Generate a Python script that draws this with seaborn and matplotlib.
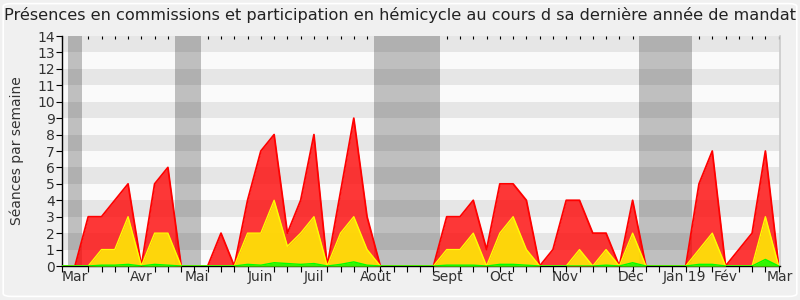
import matplotlib
matplotlib.use("Agg")
import matplotlib.pyplot as plt
import seaborn as sns
import numpy as np
import pandas as pd
from matplotlib.patches import FancyBboxPatch

# ---- data (weekly values) ----
weeks = list(range(55))
commission = [0, 0, 3, 3, 4, 5, 0, 5, 6, 0,
              0, 0, 2, 0, 4, 7, 8, 2, 4, 8,
              0, 4.5, 9, 3, 0, 0, 0, 0, 0, 3,
              3, 4, 1, 5, 5, 4, 0, 1, 4, 4,
              2, 2, 0, 4, 0, 0, 0, 0, 5, 7,
              0, 1, 2, 7, 0]
hemicycle = [0, 0, 0, 1, 1, 3, 0, 2, 2, 0,
             0, 0, 0, 0, 2, 2, 4, 1.2, 2, 3,
             0, 2, 3, 1, 0, 0, 0, 0, 0, 1,
             1, 2, 0, 2, 3, 1, 0, 0, 0, 1,
             0, 1, 0, 2, 0, 0, 0, 0, 1, 2,
             0, 0, 0, 3, 0]
interventions = [0, 0, 0, 0.05, 0.05, 0.1, 0, 0.1, 0.05, 0,
                 0, 0, 0, 0, 0.1, 0.05, 0.2, 0.15, 0.1, 0.15,
                 0, 0.1, 0.25, 0.05, 0, 0, 0, 0, 0, 0.05,
                 0.05, 0.05, 0, 0.1, 0.1, 0.05, 0, 0, 0, 0,
                 0, 0.05, 0, 0.2, 0, 0, 0, 0, 0.1, 0.1,
                 0, 0, 0, 0.4, 0]
vacations = [(0.5, 1.5), (8.5, 10.5), (23.5, 28.5), (43.5, 47.5)]
month_pos = [1, 6, 10.2, 15, 19, 23.7, 29, 33.1, 37.9, 42.9, 46.9, 50, 54.1]
month_labels = ["Mar", "Avr", "Mai", "Juin", "Juil", "Août", "Sept", "Oct",
                "Nov", "Déc", "Jan 19", "Fév", "Mar"]

df = pd.DataFrame({"week": weeks, "commission": commission,
                   "hemicycle": hemicycle, "interventions": interventions})

sns.set_theme(style="white")
plt.rcParams["font.family"] = ["DejaVu Sans"]

fig = plt.figure(figsize=(8, 3), dpi=100)
fig.patch.set_facecolor("#f0f0f0")
fig.patches.append(FancyBboxPatch((0.004, 0.012), 0.992, 0.976,
                                  boxstyle="round,pad=0,rounding_size=0.01",
                                  transform=fig.transFigure, facecolor="none",
                                  edgecolor="#ffffff", lw=1.2))
ax = fig.add_axes([0.0771, 0.1133, 0.8979, 0.7667])
ax.set_facecolor("#fafafa")

for a, b in vacations:
    ax.axvspan(a, b, color="#bfbfbf", lw=0, zorder=0.5)
for y0 in range(1, 14, 2):
    ax.axhspan(y0, y0 + 1, color="black", alpha=0.08, lw=0, zorder=0.6)

ax.fill_between(df["week"], df["commission"], color="red", alpha=0.78, lw=0, zorder=1)
sns.lineplot(data=df, x="week", y="commission", color="#ff0000", lw=1.3, ax=ax, zorder=2)
ax.fill_between(df["week"], df["hemicycle"], color="yellow", alpha=0.8, lw=0, zorder=3)
sns.lineplot(data=df, x="week", y="hemicycle", color="#ffff00", lw=1.0, ax=ax, zorder=4)
ax.fill_between(df["week"], df["interventions"], color="#00ff00", alpha=0.8, lw=0, zorder=5)
sns.lineplot(data=df, x="week", y="interventions", color="#00ff00", lw=1.0, ax=ax, zorder=6)

ax.set_xlim(0, 54)
ax.set_ylim(0, 14)
ax.set_yticks(range(15))
ax.set_xticks(month_pos)
ax.set_xticklabels(month_labels)
ax.set_xticks(weeks, minor=True)
ax.tick_params(axis="x", which="major", length=0, pad=3, labelsize=10, labelcolor="#333333")
ax.tick_params(axis="x", which="minor", length=4, width=0.8, color="black",
               direction="out", bottom=True, top=False)
ax.tick_params(axis="y", which="major", length=4, width=0.8, color="black",
               direction="out", left=True, pad=1, labelsize=10, labelcolor="#333333")
sec = ax.secondary_xaxis("top")
sec.set_xticks(weeks, minor=False)
sec.set_xticklabels([])
sec.tick_params(direction="in", length=2, width=0.8, color="black")
sec.spines["top"].set_visible(False)

ax.set_xlabel("")
ax.set_ylabel("Séances par semaine", fontsize=10, color="#333333", labelpad=9)
ax.spines["top"].set_visible(False)
ax.spines["right"].set_color("#cccccc")
ax.spines["left"].set_color("black")
ax.spines["bottom"].set_color("black")
ax.spines["left"].set_linewidth(1)
ax.spines["bottom"].set_linewidth(1)

fig.text(0.5, 0.95, "Présences en commissions et participation en hémicycle au cours d sa dernière année de mandat",
         ha="center", va="center", fontsize=11.6, color="#222222")

fig.savefig("out.png", dpi=100, facecolor=fig.get_facecolor())
